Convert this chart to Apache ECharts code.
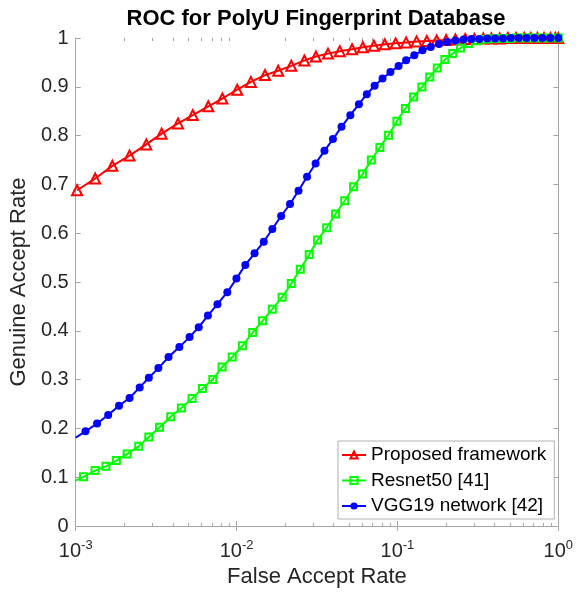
<!DOCTYPE html>
<html>
<head>
<meta charset="utf-8">
<script src="https://cdn.jsdelivr.net/npm/echarts@6/dist/echarts.min.js"></script>
<style>
  html, body { margin: 0; padding: 0; background: #fff; }
  #chart { width: 576px; height: 593px; }
</style>
</head>
<body>
<div id="chart"></div>
<script>
// ROC curves: false accept rate (log scale) against genuine accept rate
const seriesNames = ['Proposed framework', 'Resnet50 [41]', 'VGG19 network [42]'];

const proposedFAR = [0.00102, 0.001321, 0.001691, 0.002162, 0.002747, 0.003421, 0.004329, 0.00535, 0.006675, 0.008166,
  0.01009, 0.01228, 0.01503, 0.01815, 0.02189, 0.02641, 0.03114, 0.03702, 0.04385, 0.05224, 0.06099, 0.07148, 0.0835, 0.0975,
  0.1133, 0.1316, 0.1524, 0.1754, 0.2009, 0.2293, 0.264, 0.3011, 0.3417, 0.3841, 0.4323, 0.486, 0.5464, 0.615, 0.6751,
  0.7419, 0.8153, 0.8947, 0.9594, 1.0];
const proposedGAR = [0.688, 0.712, 0.738, 0.759, 0.782, 0.804, 0.825, 0.842, 0.860, 0.876,
  0.894, 0.910, 0.924, 0.933, 0.943, 0.954, 0.962, 0.968, 0.973, 0.977, 0.981, 0.984, 0.987, 0.989,
  0.991, 0.993, 0.994, 0.995, 0.996, 0.997, 0.998, 0.998, 0.999, 0.999, 0.999, 1.0, 1.0, 1.0, 1.0,
  1.0, 1.0, 1.0, 1.0, 1.0];

const resnetFAR = [0.001, 0.001119, 0.00132, 0.001541, 0.00179, 0.00209, 0.002464, 0.002849, 0.003322, 0.003897,
  0.004536, 0.00529, 0.006139, 0.007119, 0.008128, 0.009399, 0.01087, 0.0126, 0.01451, 0.01669,
  0.0192, 0.02189, 0.02492, 0.02829, 0.0319, 0.03635, 0.04126, 0.04706, 0.0534, 0.06064,
  0.06884, 0.07782, 0.08796, 0.09929, 0.1122, 0.1262, 0.142, 0.159, 0.1769, 0.1972,
  0.2208, 0.247, 0.2766, 0.311, 0.35, 0.3934, 0.4404, 0.4929, 0.5517, 0.6175,
  0.6914, 0.7738, 0.8661, 1.0];
const resnetGAR = [0.093, 0.1007, 0.1135, 0.1223, 0.134, 0.1477, 0.1633, 0.1825, 0.2025, 0.224,
  0.2418, 0.2615, 0.2819, 0.3003, 0.3257, 0.3462, 0.3693, 0.3965, 0.4204, 0.4444,
  0.4689, 0.4967, 0.5262, 0.5565, 0.5861, 0.6113, 0.6393, 0.6665, 0.6952, 0.7211,
  0.7498, 0.7758, 0.8009, 0.8296, 0.8556, 0.8793, 0.8998, 0.9202, 0.9386, 0.9558,
  0.9681, 0.9796, 0.9885, 0.9943, 0.9973, 0.9984, 0.999, 0.999, 1.0, 1.0,
  1.0, 1.0, 1.0, 1.0];

const vggFAR = [0.001, 0.001151, 0.001358, 0.001592, 0.001859, 0.002162, 0.002499, 0.002849, 0.003267, 0.003777,
  0.004409, 0.005105, 0.005821, 0.006636, 0.007609, 0.008761, 0.009986, 0.01134, 0.01294, 0.01476,
  0.01669, 0.01893, 0.02149, 0.02427, 0.02743, 0.031, 0.0352, 0.03973, 0.04492, 0.05098,
  0.05763, 0.06451, 0.07219, 0.08083, 0.09047, 0.1017, 0.1133, 0.1274, 0.1432, 0.1612,
  0.1813, 0.2037, 0.2293, 0.2578, 0.2885, 0.323, 0.3615, 0.4046, 0.453, 0.507,
  0.5675, 0.6353, 0.711, 0.796, 0.8909, 1.0];
const vggGAR = [0.181, 0.194, 0.210, 0.2275, 0.2465, 0.2623, 0.284, 0.3038, 0.3236, 0.3462,
  0.3666, 0.3871, 0.4075, 0.4313, 0.4546, 0.4791, 0.507, 0.535, 0.5589, 0.5826,
  0.6086, 0.6352, 0.6598, 0.687, 0.7156, 0.743, 0.7688, 0.7928, 0.8179, 0.8419,
  0.8644, 0.8848, 0.9022, 0.9169, 0.9304, 0.9427, 0.9544, 0.9646, 0.9748, 0.9816,
  0.9877, 0.9918, 0.9947, 0.9967, 0.998, 0.998, 0.999, 0.999, 0.999, 1.0,
  1.0, 1.0, 1.0, 1.0, 1.0, 1.0];

// the Resnet and VGG curves enter at the left border without a marker there
const unmarkedFirst = [false, true, true];

const FONT = '"Liberation Sans", Arial, Helvetica, sans-serif';
const AXIS_COLOR = '#a6a6a6';
const LABEL_COLOR = '#262626';
const HOLLOW = 'rgba(255,255,255,0)';

function buildData(far, gar, skipFirstMarker) {
  return far.map((f, i) => {
    const item = { value: [f, gar[i]] };
    if (skipFirstMarker && i === 0) item.symbol = 'none';
    return item;
  });
}

const chart = echarts.init(document.getElementById('chart'), null, { renderer: 'canvas' });

const axisLineStyle = { show: true, lineStyle: { color: AXIS_COLOR, width: 1 } };
const tickStyle = { show: true, inside: true, length: 5, lineStyle: { color: AXIS_COLOR, width: 1 } };

const option = {
  animation: false,
  backgroundColor: '#fff',
  textStyle: { fontFamily: FONT },
  title: {
    text: 'ROC for PolyU Fingerprint Database',
    left: 316,
    top: 8,
    textAlign: 'center',
    padding: 0,
    textStyle: { fontSize: 22, fontWeight: 'bold', color: '#000', fontFamily: FONT }
  },
  grid: { left: 71, right: 15, top: 38, bottom: 67, containLabel: false },
  legend: {
    orient: 'vertical',
    left: 338,
    top: 441,
    padding: [4, 8, 3, 3],
    itemWidth: 24,
    itemHeight: 9,
    itemGap: 5.5,
    borderColor: '#b0b0b0',
    borderWidth: 1,
    backgroundColor: '#fff',
    textStyle: { fontSize: 19, color: '#000', lineHeight: 20, fontFamily: FONT },
    data: seriesNames
  },
  xAxis: [
    {
      type: 'log', logBase: 10, min: 0.001, max: 1, position: 'bottom',
      axisLine: axisLineStyle, axisTick: tickStyle, splitLine: { show: false },
      axisLabel: {
        margin: 13,
        formatter: v => '{b|10}{s|' + Math.round(Math.log10(v)) + '}',
        rich: {
          b: { fontSize: 20, lineHeight: 24, verticalAlign: 'middle', color: LABEL_COLOR, fontFamily: FONT },
          s: { fontSize: 13, lineHeight: 10, verticalAlign: 'top', color: LABEL_COLOR, fontFamily: FONT }
        }
      },
      name: 'False Accept Rate', nameLocation: 'middle', nameGap: 40,
      nameTextStyle: { fontSize: 22, color: LABEL_COLOR, fontFamily: FONT }
    },
    {
      type: 'log', logBase: 10, min: 0.001, max: 1, position: 'top',
      axisLine: axisLineStyle, axisTick: tickStyle, splitLine: { show: false },
      axisLabel: { show: false }
    }
  ],
  yAxis: [
    {
      type: 'value', min: 0, max: 1, interval: 0.1, position: 'left',
      axisLine: axisLineStyle, axisTick: tickStyle, splitLine: { show: false },
      axisLabel: { fontSize: 20, color: LABEL_COLOR, margin: 7, fontFamily: FONT },
      name: 'Genuine Accept Rate', nameLocation: 'middle', nameGap: 36,
      nameTextStyle: { fontSize: 22, color: LABEL_COLOR, fontFamily: FONT }
    },
    {
      type: 'value', min: 0, max: 1, interval: 0.1, position: 'right',
      axisLine: axisLineStyle, axisTick: tickStyle, splitLine: { show: false },
      axisLabel: { show: false }
    }
  ],
  series: [
    {
      name: seriesNames[0], type: 'line', xAxisIndex: 0, yAxisIndex: 0,
      data: buildData(proposedFAR, proposedGAR, unmarkedFirst[0]),
      symbol: 'triangle', symbolSize: 10, showAllSymbol: true,
      lineStyle: { color: '#ff0000', width: 2 },
      itemStyle: { color: HOLLOW, borderColor: '#ff0000', borderWidth: 2 }
    },
    {
      name: seriesNames[1], type: 'line', xAxisIndex: 0, yAxisIndex: 0,
      data: buildData(resnetFAR, resnetGAR, unmarkedFirst[1]),
      symbol: 'rect', symbolSize: 7, showAllSymbol: true,
      lineStyle: { color: '#00ff00', width: 2 },
      itemStyle: { color: HOLLOW, borderColor: '#00ff00', borderWidth: 2 }
    },
    {
      name: seriesNames[2], type: 'line', xAxisIndex: 0, yAxisIndex: 0,
      data: buildData(vggFAR, vggGAR, unmarkedFirst[2]),
      symbol: 'circle', symbolSize: 8, showAllSymbol: true,
      lineStyle: { color: '#0000ff', width: 2 },
      itemStyle: { color: '#0000ff', borderColor: '#0000ff', borderWidth: 0 }
    }
  ]
};

chart.setOption(option);

// Minor ticks of the log axis (2..9 within each decade), bottom and top borders
function drawMinorTicks() {
  const yBottom = chart.convertToPixel({ yAxisIndex: 0 }, 0);
  const yTop = chart.convertToPixel({ yAxisIndex: 0 }, 1);
  const elements = [];
  for (let d = -3; d < 0; d++) {
    for (let k = 2; k <= 9; k++) {
      const x = Math.round(chart.convertToPixel({ xAxisIndex: 0 }, k * Math.pow(10, d))) + 0.5;
      elements.push({ type: 'line', silent: true,
        shape: { x1: x, y1: yBottom, x2: x, y2: yBottom - 3 },
        style: { stroke: AXIS_COLOR, lineWidth: 1 } });
      elements.push({ type: 'line', silent: true,
        shape: { x1: x, y1: yTop, x2: x, y2: yTop + 3 },
        style: { stroke: AXIS_COLOR, lineWidth: 1 } });
    }
  }
  chart.setOption({ graphic: { elements } });
}
drawMinorTicks();
</script>
</body>
</html>
